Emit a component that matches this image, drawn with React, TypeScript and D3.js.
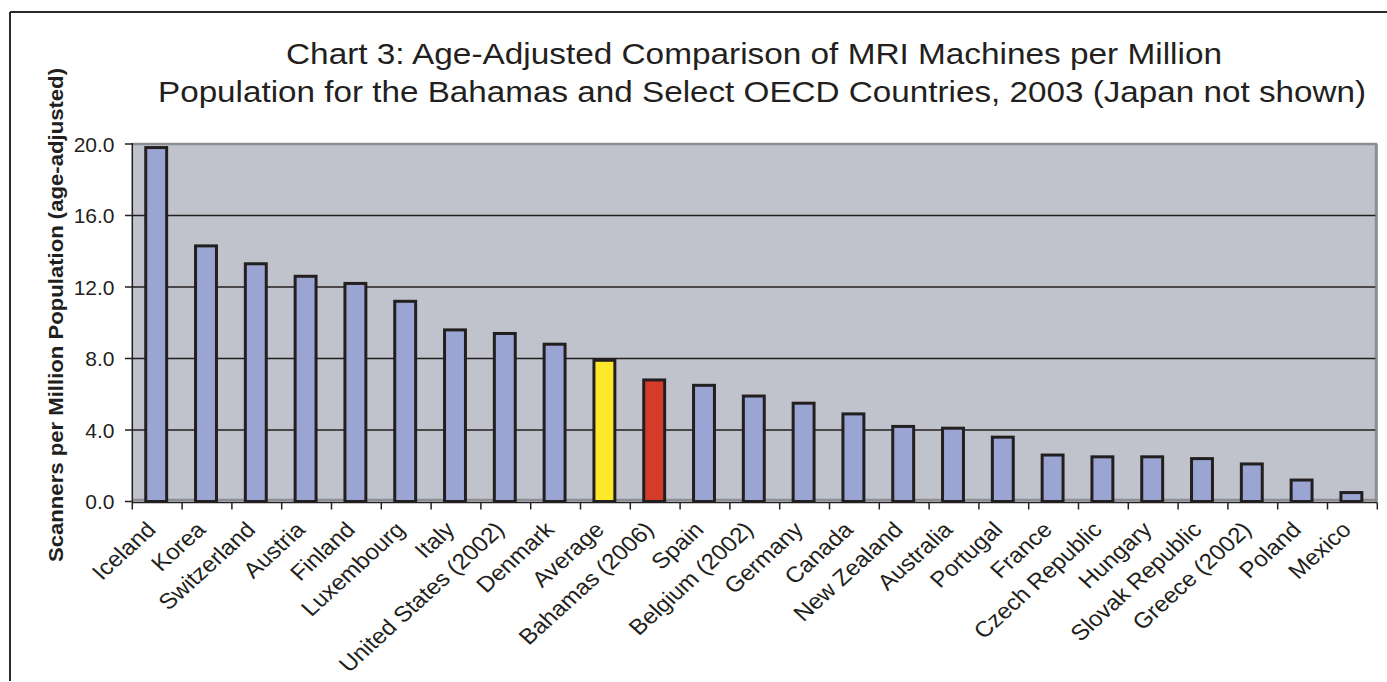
import React from "react";
import * as d3 from "d3";

const categories = [
  "Iceland", "Korea", "Switzerland", "Austria", "Finland", "Luxembourg", "Italy",
  "United States (2002)", "Denmark", "Average", "Bahamas (2006)", "Spain",
  "Belgium (2002)", "Germany", "Canada", "New Zealand", "Australia", "Portugal",
  "France", "Czech Republic", "Hungary", "Slovak Republic", "Greece (2002)",
  "Poland", "Mexico",
];
const values = [
  19.8, 14.3, 13.3, 12.6, 12.2, 11.2, 9.6, 9.4, 8.8, 7.9, 6.8, 6.5, 5.9, 5.5,
  4.9, 4.2, 4.1, 3.6, 2.6, 2.5, 2.5, 2.4, 2.1, 1.2, 0.5,
];
const highlight: Record<string, string> = { Average: "#FDE829", "Bahamas (2006)": "#D53B2B" };
const yTicks = [0, 4, 8, 12, 16, 20];
const titleLines = [
  "Chart 3: Age-Adjusted Comparison of MRI Machines per Million",
  "Population for the Bahamas and Select OECD Countries, 2003 (Japan not shown)",
];
const yLabel = "Scanners per Million Population (age-adjusted)";

const W = 1387;
const H = 682;
const left = 132.3;
const right = 1377.3;
const top = 144;
const bottom = 501.5;
const ink = "#231F20";
const font = "'Liberation Sans', Arial, Helvetica, sans-serif";

export default function App() {
  const x = d3.scaleBand<string>().domain(categories).range([left, right]).padding(0);
  const y = d3.scaleLinear().domain([0, 20]).range([bottom, top]);
  const bw = x.bandwidth() * 0.42;

  return (
    <svg width={W} height={H} style={{ position: "absolute", left: 0, top: 0, background: "#fff" }} fontFamily={font}>
      {/* outer frame */}
      <line x1={10} y1={681} x2={10} y2={12} stroke="#2a2a2a" strokeWidth={2} />
      <line x1={10} y1={12} x2={W} y2={12} stroke="#2a2a2a" strokeWidth={2} />

      {/* title */}
      <text x={286} y={63.5} fontSize={29} fill={ink} textLength={936} lengthAdjust="spacingAndGlyphs">
        {titleLines[0]}
      </text>
      <text x={158} y={102} fontSize={29} fill={ink} textLength={1208} lengthAdjust="spacingAndGlyphs">
        {titleLines[1]}
      </text>

      {/* plot background */}
      <rect x={left} y={top} width={right - left} height={bottom - top} fill="#C0C3CB" />
      <line x1={left} y1={top} x2={right} y2={top} stroke="#8B8E94" strokeWidth={2.5} />
      <line x1={right - 1} y1={top} x2={right - 1} y2={bottom} stroke="#8B8E94" strokeWidth={3} />
      <line x1={left} y1={bottom - 1.5} x2={right} y2={bottom - 1.5} stroke="#8B8E94" strokeWidth={2.5} />

      {/* gridlines */}
      {yTicks.filter((t) => t > 0 && t < 20).map((t) => (
        <line key={t} x1={left} x2={right - 2} y1={y(t)} y2={y(t)} stroke={ink} strokeWidth={1.5} />
      ))}

      {/* bars */}
      {categories.map((c, i) => {
        const cx = (x(c) as number) + x.bandwidth() / 2 - 1;
        return (
          <rect
            key={c}
            x={cx - bw / 2}
            y={y(values[i])}
            width={bw}
            height={y(0) - y(values[i])}
            fill={highlight[c] || "#9BA5D4"}
            stroke={ink}
            strokeWidth={3}
          />
        );
      })}

      {/* axes */}
      <line x1={left} y1={top - 1} x2={left} y2={bottom + 1} stroke={ink} strokeWidth={1.5} />
      <line x1={left} y1={bottom + 1} x2={right} y2={bottom + 1} stroke={ink} strokeWidth={1.5} />
      {yTicks.map((t) => (
        <g key={t}>
          <line x1={125} x2={left} y1={y(t)} y2={y(t)} stroke={ink} strokeWidth={1.5} />
          <text x={114.5} y={y(t) + 7.5} fontSize={21} textAnchor="end" fill={ink}>
            {t.toFixed(1)}
          </text>
        </g>
      ))}
      {categories.map((c) => (
        <line key={c} x1={x(c) as number} x2={x(c) as number} y1={bottom + 1} y2={bottom + 8} stroke={ink} strokeWidth={1.5} />
      ))}
      <line x1={right} x2={right} y1={bottom + 1} y2={bottom + 8} stroke={ink} strokeWidth={1.5} />

      {/* x labels */}
      {categories.map((c) => {
        const cx = (x(c) as number) + x.bandwidth() / 2;
        return (
          <text
            key={c}
            transform={`translate(${cx},${531}) scale(1.1,1) rotate(-45)`}
            fontSize={22}
            textAnchor="end"
            fill={ink}
          >
            {c}
          </text>
        );
      })}

      {/* y label */}
      <text
        transform={`translate(63,315) rotate(-90)`}
        fontSize={20.5}
        fontWeight="bold"
        textAnchor="middle"
        fill={ink}
        textLength={494}
        lengthAdjust="spacingAndGlyphs"
      >
        {yLabel}
      </text>
    </svg>
  );
}
